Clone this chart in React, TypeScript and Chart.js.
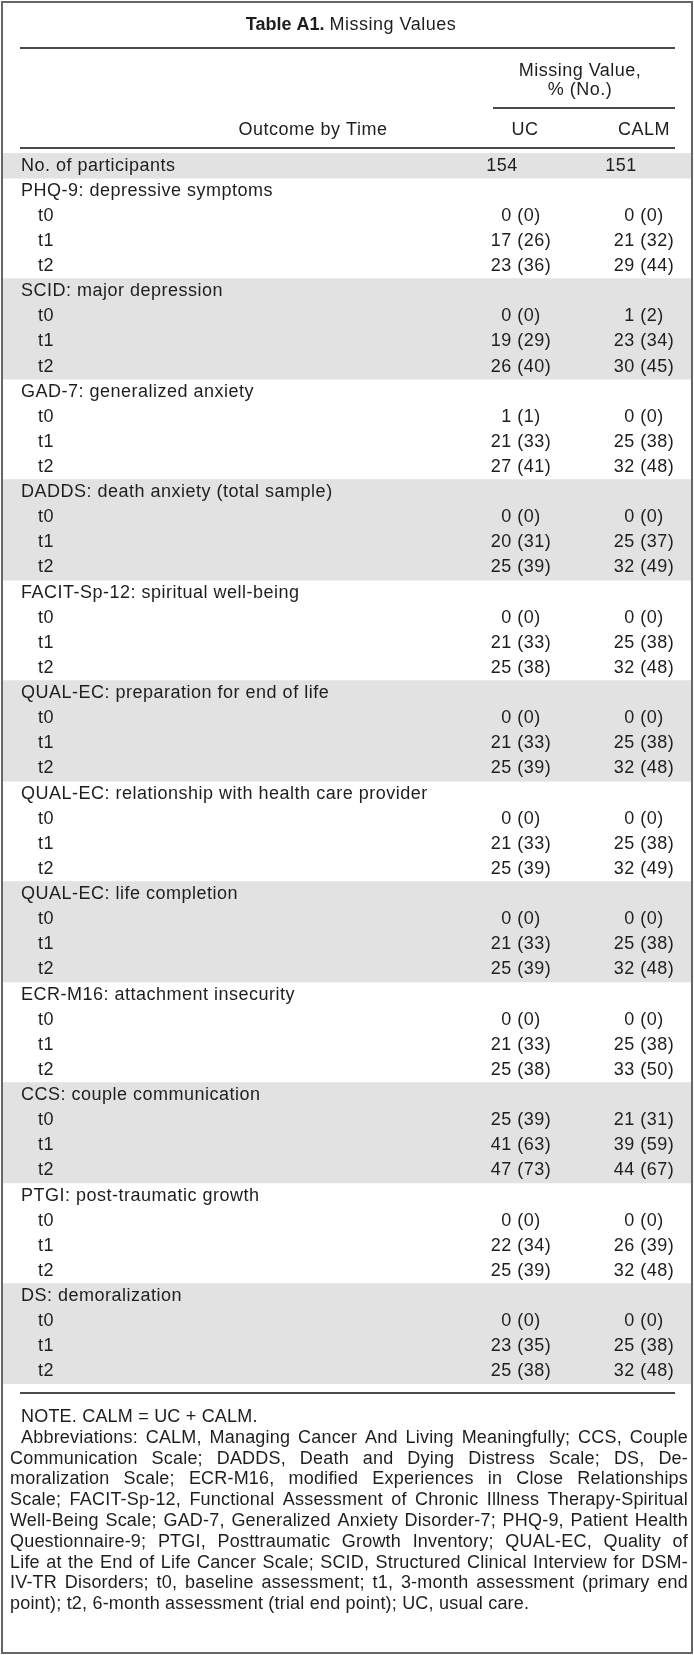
import React, { useEffect, useRef } from "react";
import { Chart, registerables } from "chart.js";

Chart.register(...registerables);

// ---------- content ----------
const TITLE_BOLD = "Table A1.";
const TITLE_REST = "Missing Values";
const SPANNER = ["Missing Value,", "% (No.)"];
const STUB_HEAD = "Outcome by Time";
const ARMS = ["UC", "CALM"];

const PARTICIPANTS_LABEL = "No. of participants";
const participants = [154, 151];

const outcomes = [
  "PHQ-9: depressive symptoms",
  "SCID: major depression",
  "GAD-7: generalized anxiety",
  "DADDS: death anxiety (total sample)",
  "FACIT-Sp-12: spiritual well-being",
  "QUAL-EC: preparation for end of life",
  "QUAL-EC: relationship with health care provider",
  "QUAL-EC: life completion",
  "ECR-M16: attachment insecurity",
  "CCS: couple communication",
  "PTGI: post-traumatic growth",
  "DS: demoralization",
];
const timepoints = ["t0", "t1", "t2"];

// values per outcome, t0 t1 t2
const ucPct = [
  0, 17, 23, 0, 19, 26, 1, 21, 27, 0, 20, 25, 0, 21, 25, 0, 21, 25,
  0, 21, 25, 0, 21, 25, 0, 21, 25, 25, 41, 47, 0, 22, 25, 0, 23, 25,
];
const ucN = [
  0, 26, 36, 0, 29, 40, 1, 33, 41, 0, 31, 39, 0, 33, 38, 0, 33, 39,
  0, 33, 39, 0, 33, 39, 0, 33, 38, 39, 63, 73, 0, 34, 39, 0, 35, 38,
];
const calmPct = [
  0, 21, 29, 1, 23, 30, 0, 25, 32, 0, 25, 32, 0, 25, 32, 0, 25, 32,
  0, 25, 32, 0, 25, 32, 0, 25, 33, 21, 39, 44, 0, 26, 32, 0, 25, 32,
];
const calmN = [
  0, 32, 44, 2, 34, 45, 0, 38, 48, 0, 37, 49, 0, 38, 48, 0, 38, 48,
  0, 38, 49, 0, 38, 48, 0, 38, 50, 31, 59, 67, 0, 39, 48, 0, 38, 48,
];

const noteLines = [
  "NOTE. CALM = UC + CALM.",
  "Abbreviations: CALM, Managing Cancer And Living Meaningfully; CCS, Couple",
  "Communication Scale; DADDS, Death and Dying Distress Scale; DS, De-",
  "moralization Scale; ECR-M16, modified Experiences in Close Relationships",
  "Scale; FACIT-Sp-12, Functional Assessment of Chronic Illness Therapy-Spiritual",
  "Well-Being Scale; GAD-7, Generalized Anxiety Disorder-7; PHQ-9, Patient Health",
  "Questionnaire-9; PTGI, Posttraumatic Growth Inventory; QUAL-EC, Quality of",
  "Life at the End of Life Cancer Scale; SCID, Structured Clinical Interview for DSM-",
  "IV-TR Disorders; t0, baseline assessment; t1, 3-month assessment (primary end",
  "point); t2, 6-month assessment (trial end point); UC, usual care.",
];

// ---------- layout / style ----------
const W = 694;
const H = 1655;
const FONT = '"Liberation Sans", Arial, sans-serif';
const TEXT = "#1e1e1e";
const RULE = "#4a4a4a";
const SHADE = "#e2e2e2";
const BODY_TOP = 153;
const BODY_BOTTOM = 1384;
const X_MIN = 3;
const X_MAX = 691;
const COL_UC = 521;
const COL_CALM = 644;
const COL_PART_UC = 502;
const COL_PART_CALM = 621;

type Row = { label: string; indent: boolean; uc: string; calm: string; shaded: boolean; partRow?: boolean };

function buildRows(): Row[] {
  const rows: Row[] = [
    {
      label: PARTICIPANTS_LABEL,
      indent: false,
      uc: String(participants[0]),
      calm: String(participants[1]),
      shaded: true,
      partRow: true,
    },
  ];
  outcomes.forEach((o, g) => {
    const shaded = g % 2 === 1;
    rows.push({ label: o, indent: false, uc: "", calm: "", shaded });
    timepoints.forEach((t, k) => {
      const i = g * 3 + k;
      rows.push({
        label: t,
        indent: true,
        uc: `${ucPct[i]} (${ucN[i]})`,
        calm: `${calmPct[i]} (${calmN[i]})`,
        shaded,
      });
    });
  });
  return rows;
}

function setFont(ctx: CanvasRenderingContext2D, size: number, weight = "normal", spacing = 0.5) {
  ctx.font = `${weight} ${size}px ${FONT}`;
  (ctx as any).letterSpacing = `${spacing}px`;
}

function drawLine(ctx: CanvasRenderingContext2D, y: number, x0: number, x1: number) {
  ctx.save();
  ctx.strokeStyle = RULE;
  ctx.lineWidth = 2;
  ctx.beginPath();
  ctx.moveTo(x0, y);
  ctx.lineTo(x1, y);
  ctx.stroke();
  ctx.restore();
}

function drawNoteLine(ctx: CanvasRenderingContext2D, text: string, x0: number, x1: number, y: number, justify: boolean) {
  const width = x1 - x0;
  const natural = ctx.measureText(text).width;
  ctx.textAlign = "left";
  if (natural > width) {
    ctx.save();
    ctx.translate(x0, y);
    ctx.scale(width / natural, 1);
    ctx.fillText(text, 0, 0);
    ctx.restore();
    return;
  }
  if (!justify) {
    ctx.fillText(text, x0, y);
    return;
  }
  const words = text.split(" ");
  const ws = words.map((w) => ctx.measureText(w).width);
  const sum = ws.reduce((a, b) => a + b, 0);
  const gap = (width - sum) / (words.length - 1);
  let x = x0;
  words.forEach((w, i) => {
    ctx.fillText(w, x, y);
    x += ws[i] + gap;
  });
}

function makeTablePlugin(rows: Row[]) {
  return {
    id: "tablePlugin",
    beforeDraw(chart: any) {
      const ctx = chart.ctx as CanvasRenderingContext2D;
      ctx.save();
      ctx.fillStyle = "#ffffff";
      ctx.fillRect(0, 0, chart.width, chart.height);
      ctx.restore();
    },
    afterDatasetsDraw(chart: any) {
      const ctx = chart.ctx as CanvasRenderingContext2D;
      const xs = chart.scales.x;
      const ys = chart.scales.y;
      ctx.save();
      ctx.fillStyle = TEXT;
      ctx.textBaseline = "middle";

      // title
      setFont(ctx, 18, "bold", 0);
      const boldW = ctx.measureText(TITLE_BOLD + " ").width;
      setFont(ctx, 18, "normal", 0.5);
      const restW = ctx.measureText(TITLE_REST).width;
      const tx = (W - (boldW + restW)) / 2 + 4;
      setFont(ctx, 18, "bold", 0);
      ctx.textAlign = "left";
      ctx.fillText(TITLE_BOLD + " ", tx, 25);
      setFont(ctx, 18, "normal", 0.5);
      ctx.fillText(TITLE_REST, tx + boldW, 25);
      drawLine(ctx, 48, 20, 675);

      // column header
      setFont(ctx, 18, "normal", 0.5);
      ctx.textAlign = "center";
      ctx.fillText(SPANNER[0], 580, 71);
      ctx.fillText(SPANNER[1], 580, 90);
      drawLine(ctx, 108, 493, 675);
      ctx.fillText(STUB_HEAD, 313, 130);
      ctx.fillText(ARMS[0], xs.getPixelForValue(COL_UC) + 4, 130);
      ctx.fillText(ARMS[1], xs.getPixelForValue(COL_CALM), 130);
      drawLine(ctx, 148, 20, 675);

      // body
      rows.forEach((r, i) => {
        const y = ys.getPixelForValue(i);
        ctx.textAlign = "left";
        ctx.fillText(r.label, r.indent ? 38 : 21, y);
        ctx.textAlign = "center";
        if (r.uc) ctx.fillText(r.uc, xs.getPixelForValue(r.partRow ? COL_PART_UC : COL_UC), y);
        if (r.calm) ctx.fillText(r.calm, xs.getPixelForValue(r.partRow ? COL_PART_CALM : COL_CALM), y);
      });
      drawLine(ctx, 1393, 20, 675);

      // notes
      setFont(ctx, 18, "normal", 0.2);
      noteLines.forEach((line, k) => {
        const y = 1417 + k * 20.8;
        const x0 = k < 2 ? 21 : 10;
        drawNoteLine(ctx, line, x0, 688, y, k > 0 && k < noteLines.length - 1);
      });

      // outer border
      ctx.strokeStyle = "#666666";
      ctx.lineWidth = 2;
      ctx.strokeRect(2, 2, W - 4, H - 4);
      ctx.restore();
    },
  };
}

export default function App() {
  const ref = useRef<HTMLCanvasElement | null>(null);

  useEffect(() => {
    document.body.style.margin = "0";
    document.body.style.background = "#ffffff";
    const rows = buildRows();
    const labels = rows.map((r) => r.label);
    const shade = rows.map((r) => (r.shaded ? [X_MIN, X_MAX] : null));
    const chart = new Chart(ref.current as HTMLCanvasElement, {
      type: "bar",
      data: {
        labels,
        datasets: [
          {
            data: shade as any,
            backgroundColor: SHADE,
            borderWidth: 0,
            barPercentage: 1,
            categoryPercentage: 1,
          },
        ],
      },
      options: {
        indexAxis: "y",
        responsive: false,
        animation: false,
        devicePixelRatio: 1,
        layout: { padding: { top: BODY_TOP, bottom: H - BODY_BOTTOM, left: X_MIN, right: W - X_MAX } },
        plugins: { legend: { display: false }, tooltip: { enabled: false }, title: { display: false } },
        scales: {
          x: { type: "linear", min: X_MIN, max: X_MAX, display: false, grid: { display: false } },
          y: { type: "category", display: false, grid: { display: false }, offset: true },
        },
        events: [],
      },
      plugins: [makeTablePlugin(rows)],
    });
    return () => chart.destroy();
  }, []);

  return (
    <div style={{ width: W, height: H, background: "#fff" }}>
      <canvas ref={ref} width={W} height={H} style={{ display: "block", width: W, height: H }} />
    </div>
  );
}
